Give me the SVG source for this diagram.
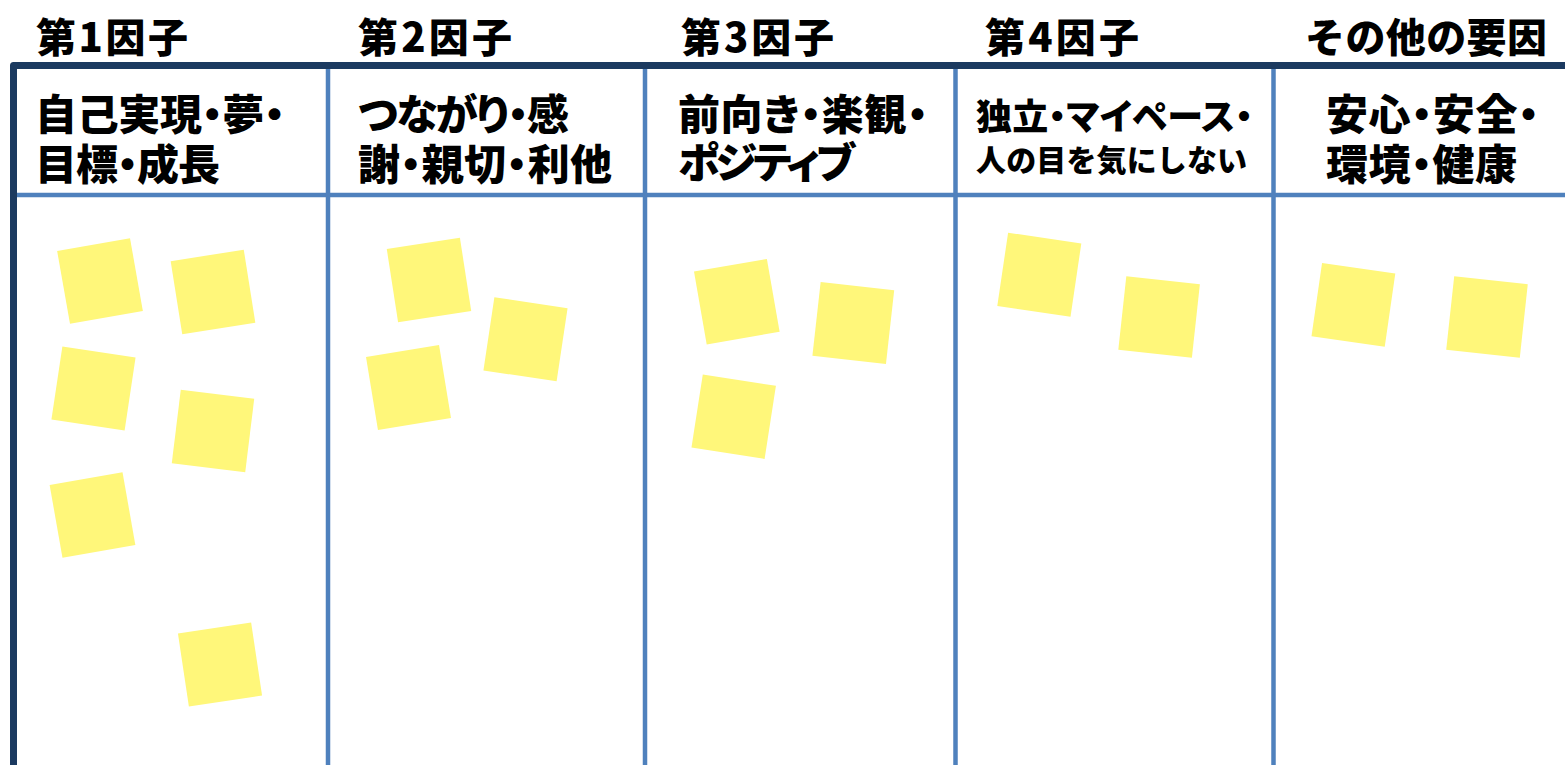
<svg xmlns="http://www.w3.org/2000/svg" width="1565" height="765" viewBox="0 0 1565 765">
<style>
.hd{font-family:"Noto Sans CJK JP","Noto Sans CJK SC",sans-serif;font-weight:900;font-size:40px;fill:#000}
.tt{font-family:"Noto Sans CJK JP","Noto Sans CJK SC",sans-serif;font-weight:900;font-size:42px;fill:#000;font-feature-settings:"palt"}
.note{fill:#FFF77A}
.div{stroke:#4F81BD;stroke-width:4.5;fill:none}
.outer{stroke:#1B3A60;stroke-width:7;fill:none;stroke-linejoin:round}
</style>
<defs>
<rect id="n" x="-37" y="-37" width="74" height="74"/>
</defs>
<rect width="1565" height="765" fill="#fff"/>
<g id="grid">
<line class="div" x1="17" y1="195" x2="1565" y2="195"/>
<line class="div" x1="328" y1="68" x2="328" y2="765"/>
<line class="div" x1="645" y1="68" x2="645" y2="765"/>
<line class="div" x1="955.5" y1="68" x2="955.5" y2="765"/>
<line class="div" x1="1273.5" y1="68" x2="1273.5" y2="765"/>
<path class="outer" d="M13.5 770 V65.5 H1570"/>
</g>
<g id="col1">
<text class="hd" x="36" y="52" textLength="152">第1因子</text>
<text class="tt"><tspan x="35" y="130" textLength="250">自己実現・夢・</tspan><tspan x="35" y="180" textLength="185">目標・成長</tspan></text>
<g class="note">
<use href="#n" transform="translate(100,281) rotate(-10)"/>
<use href="#n" transform="translate(213,292) rotate(-9)"/>
<use href="#n" transform="translate(93.5,388.5) rotate(8.5)"/>
<use href="#n" transform="translate(213,431) rotate(7)"/>
<use href="#n" transform="translate(92.5,515) rotate(-10)"/>
<use href="#n" transform="translate(220,664.5) rotate(-8.5)"/>
</g>
</g>
<g id="col2">
<text class="hd" x="358" y="52" textLength="154">第2因子</text>
<text class="tt"><tspan x="358" y="130" textLength="211">つながり・感</tspan><tspan x="358" y="180" textLength="254">謝・親切・利他</tspan></text>
<g class="note">
<use href="#n" transform="translate(429,280) rotate(-8.8)"/>
<use href="#n" transform="translate(525.5,339.3) rotate(8.5)"/>
<use href="#n" transform="translate(408.5,387.5) rotate(-9.3)"/>
</g>
</g>
<g id="col3">
<text class="hd" x="681" y="52" textLength="153">第3因子</text>
<text class="tt"><tspan x="678" y="130" textLength="250">前向き・楽観・</tspan><tspan x="678" y="178" textLength="177">ポジティブ</tspan></text>
<g class="note">
<use href="#n" transform="translate(736.8,301.7) rotate(-9.9)"/>
<use href="#n" transform="translate(853.3,323) rotate(6.4)"/>
<use href="#n" transform="translate(733.7,416.7) rotate(8.8)"/>
</g>
</g>
<g id="col4">
<text class="hd" x="985" y="52" textLength="154">第4因子</text>
<text class="tt"><tspan x="976" y="130" style="font-size:36px" textLength="277">独立・マイペース・</tspan><tspan x="976" y="171" style="font-size:30px;font-feature-settings:normal" textLength="271">人の目を気にしない</tspan></text>
<g class="note">
<use href="#n" transform="translate(1039.3,274.7) rotate(8.4)"/>
<use href="#n" transform="translate(1159.1,317) rotate(6.2)"/>
</g>
</g>
<g id="col5">
<text class="hd" x="1305" y="52" textLength="242">その他の要因</text>
<text class="tt"><tspan x="1326" y="130" textLength="213">安心・安全・</tspan><tspan x="1326" y="180" textLength="191">環境・健康</tspan></text>
<g class="note">
<use href="#n" transform="translate(1353.4,304.8) rotate(8.2)"/>
<use href="#n" transform="translate(1487,317) rotate(6.2)"/>
</g>
</g>
</svg>
